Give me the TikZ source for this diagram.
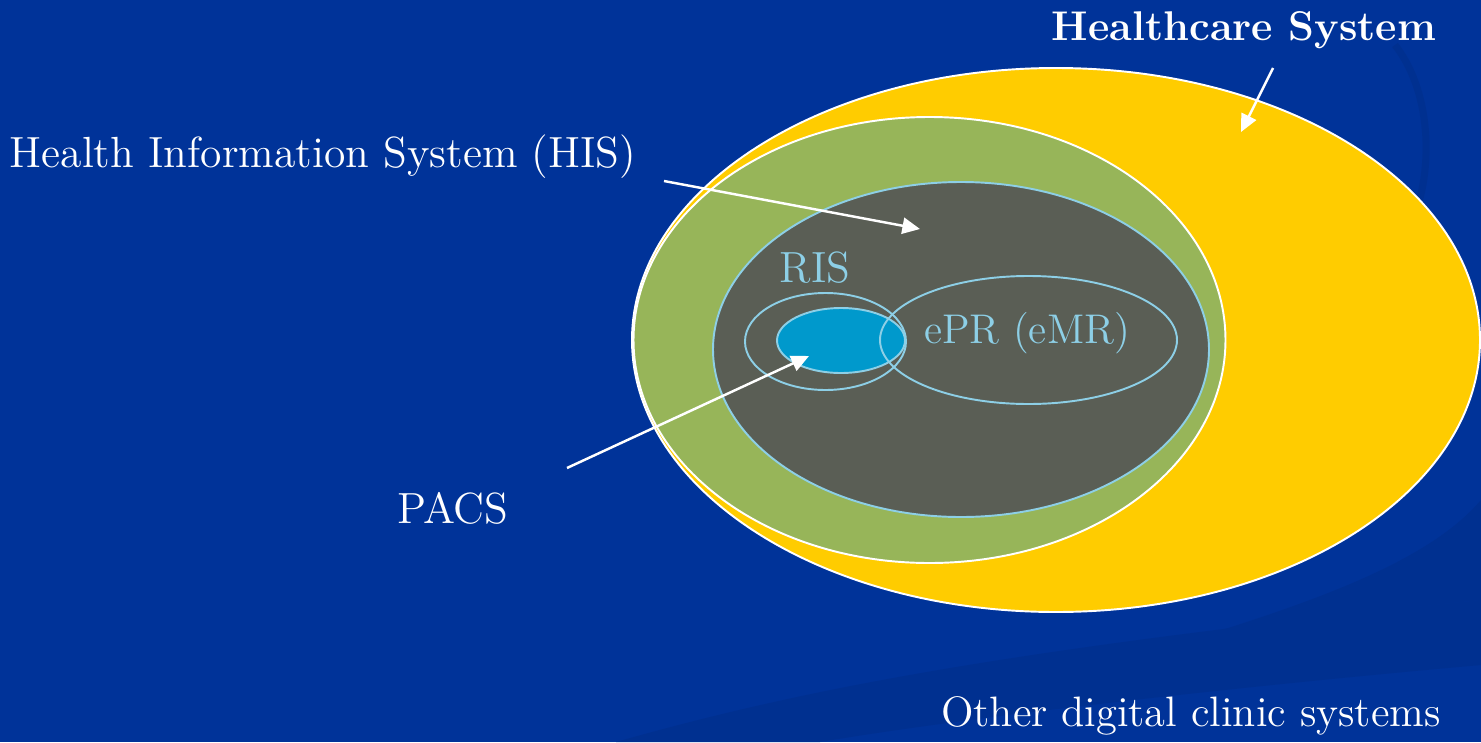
\documentclass[tikz,border=0pt]{standalone}
\usepackage{tikz}
\usetikzlibrary{arrows.meta}

\definecolor{slideblue}{HTML}{003399}
\definecolor{swoosh}{HTML}{003090}
\definecolor{hcyellow}{HTML}{FFCC00}
\definecolor{hisgreen}{HTML}{97B559}
\definecolor{risgray}{HTML}{5A5E55}
\definecolor{lineblue}{HTML}{8DCFE6}
\definecolor{pacscyan}{HTML}{0099CC}

\tikzset{
  lbl/.style={text=white, font=\fontsize{12.4}{15}\selectfont, inner sep=0pt},
  innerlbl/.style={lbl, text=lineblue},
  pointer/.style={draw=white, line width=0.7pt, -{Triangle[length=5pt,width=4.6pt]}},
  rim/.style={line width=0.55pt}
}

\begin{document}
\begin{tikzpicture}[x=0.01cm, y=-0.01cm]
                \useasboundingbox (0, 0) rectangle (1481, 742);
                \fill[slideblue] (0, 0) rectangle (1481, 742);
                % faint background swooshes
                \fill[swoosh] (616, 742) .. controls (800, 690) and (1000, 650) .. (1481, 600) -- (1481, 665) .. controls (1200, 690) and (950, 720) .. (820, 742) -- cycle;
                \fill[swoosh] (1190, 640) .. controls (1320, 600) and (1430, 560) .. (1481, 500) -- (1481, 600) .. controls (1380, 610) and (1280, 625) .. (1190, 640) -- cycle;
                \draw[swoosh, line width=2pt] (1395, 45) .. controls (1430, 90) and (1432, 160) .. (1418, 205);

                % nested systems
                \draw[rim, white, fill=hcyellow] (1056, 340) ellipse (424 and 272);
                \draw[rim, white, fill=hisgreen] (929.5, 340) ellipse (296 and 223);
                \draw[rim, lineblue, fill=risgray] (961, 349.5) ellipse (248 and 167.5);
                \draw[rim, lineblue, fill=pacscyan] (841, 340.5) ellipse (64 and 32.5);
                \draw[rim, lineblue] (825.5, 341.5) ellipse (80.5 and 48.5);
                \draw[rim, lineblue] (1028.5, 340) ellipse (148.5 and 64);

                % labels
                \node[lbl, font=\fontsize{11.8}{14}\selectfont\bfseries] (hcs) at (1244, 30) {Healthcare System};
                \node[lbl] (his) at (323, 157) {Health Information System (HIS)};
                \node[innerlbl] (ris) at (815, 268) {RIS};
                \node[innerlbl, font=\fontsize{11.8}{14}\selectfont] (epr) at (1027, 333) {ePR (eMR)};
                \node[lbl] (pacs) at (453, 508) {PACS};
                \node[lbl, font=\fontsize{12.1}{14}\selectfont] (other) at (1191, 716) {Other digital clinic systems};

                % pointers
                \coordinate (hcsfrom) at (1273, 68);
                \coordinate (hcsto) at (1241, 132);
                \coordinate (hisfrom) at (664, 181);
                \coordinate (histo) at (920, 229);
                \coordinate (pacsfrom) at (567, 468);
                \coordinate (pacsto) at (809, 356);
                \draw[pointer] (hcsfrom) -- (hcsto);
                \draw[pointer] (hisfrom) -- (histo);
                \draw[pointer] (pacsfrom) -- (pacsto);
            \end{tikzpicture}
\end{document}
